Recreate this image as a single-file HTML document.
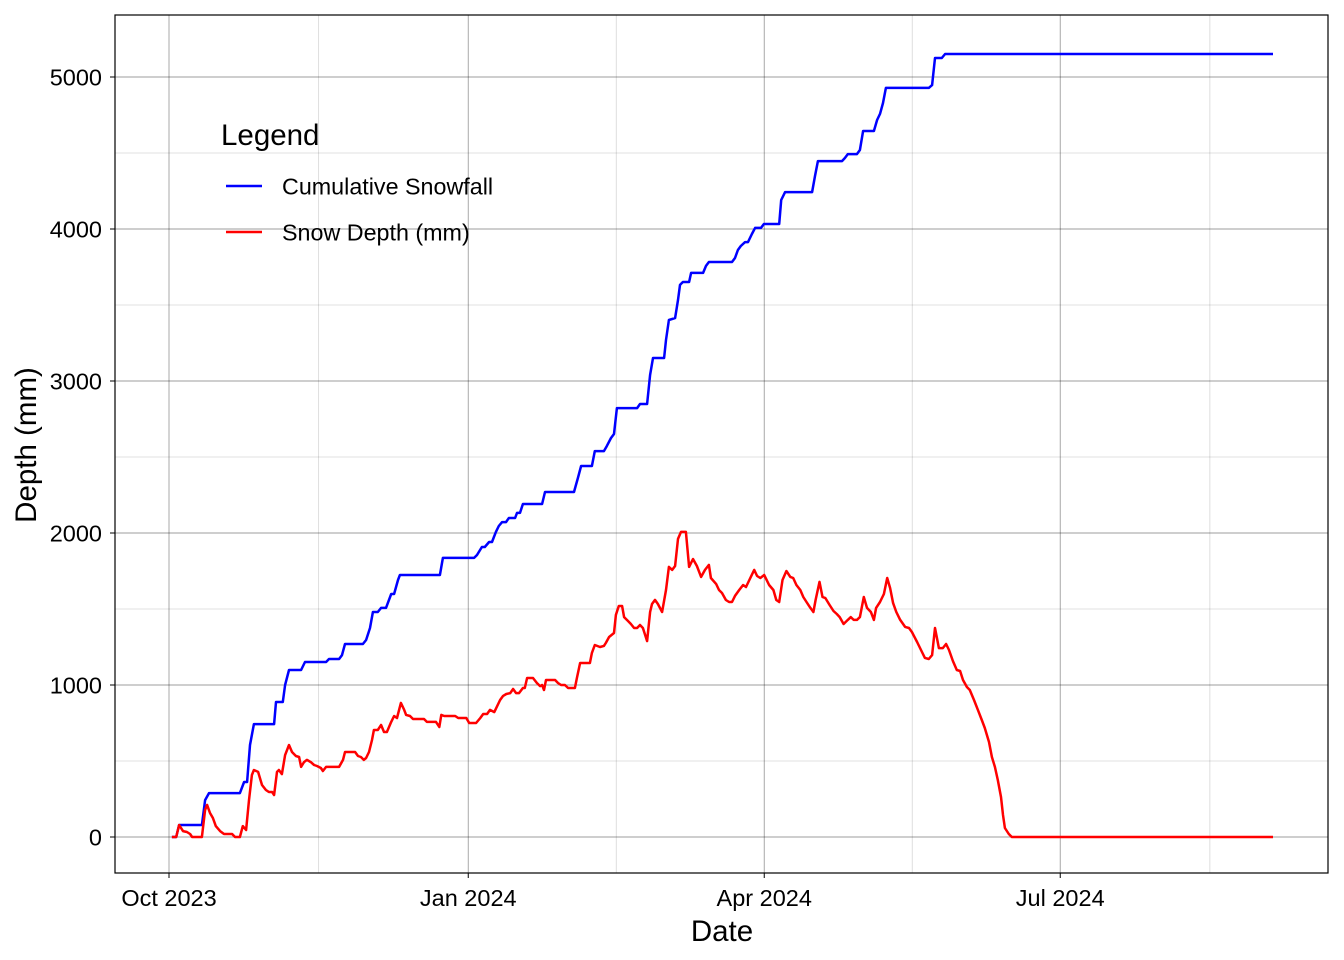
<!DOCTYPE html>
<html><head><meta charset="utf-8"><style>
html,body{margin:0;padding:0;background:#fff;}
svg{display:block;font-family:"Liberation Sans",Arial,sans-serif;}
</style></head><body>
<svg id="chart" width="1344" height="960" viewBox="0 0 1344 960"></svg>
<script>
// Data: day offset from 2023-10-01, value in mm
const depthDays=[0.9,2.2,3.1,4.3,5.5,6.5,7.1,10.1,11.1,11.7,12.6,13.5,14.4,15.7,16.9,19.4,20.3,21.8,22.7,23.7,24.6,25.5,26.1,27.4,28.6,29.8,30.7,31.7,32.3,33.2,33.8,34.7,35.7,36.9,37.8,39.0,40.0,40.6,41.5,42.4,43.6,44.6,45.5,46.7,47.3,48.3,50.1,52.3,53.5,54.1,56.3,57.2,58.1,59.0,59.9,60.6,61.5,62.4,63.0,64.2,65.2,66.1,67.0,68.3,69.2,70.1,71.3,72.3,72.9,74.1,75.0,78.4,79.3,82.1,83.1,83.7,84.6,88.0,88.9,91.4,92.3,94.4,95.7,96.6,97.8,98.7,100.0,101.8,102.7,103.7,104.9,105.8,106.7,107.6,108.8,109.4,110.1,111.9,113.1,114.1,114.7,115.3,115.9,118.7,119.6,120.5,121.7,122.7,124.8,125.4,126.4,129.4,130.0,130.9,132.5,133.7,134.3,135.3,136.8,137.4,138.3,139.3,139.9,141.1,142.0,143.0,143.9,144.8,145.7,147.0,147.9,148.5,149.4,150.3,151.6,152.8,153.7,154.7,155.6,156.5,157.4,158.9,159.9,161.1,162.3,163.6,164.8,166.0,166.6,168.2,169.1,170.0,171.2,172.2,173.1,174.0,175.3,176.5,177.4,178.7,179.9,180.8,181.8,183.0,183.6,184.5,185.8,186.7,187.6,188.6,189.8,191.0,191.9,192.9,194.1,195.0,196.0,197.2,198.1,198.8,200.0,200.9,201.8,203.1,204.3,205.3,206.2,207.4,208.7,209.6,210.5,211.5,212.4,213.6,214.6,215.8,216.7,217.4,218.6,219.8,220.8,221.7,222.6,223.6,224.8,226.3,227.5,228.4,230.0,231.2,232.4,233.6,234.6,235.5,236.7,237.9,238.9,239.8,241.0,242.2,243.2,244.1,245.3,246.2,247.5,248.7,249.9,250.8,252.1,253.0,253.9,254.8,255.8,256.4,257.0,258.2,259.1,339.4];
const depthVals=[0,0,79,39,33,20,0,0,178,211,158,125,72,39,20,20,0,0,72,46,243,408,441,428,342,309,296,296,276,428,441,414,539,605,559,533,526,461,493,507,493,474,467,454,434,461,461,461,507,559,559,559,533,526,507,520,559,638,704,704,737,691,691,757,796,783,882,836,803,796,776,776,757,757,724,803,796,796,783,783,750,750,783,809,809,836,822,901,928,941,947,974,947,947,980,980,1046,1046,1013,993,1000,967,1033,1033,1013,1000,1000,980,980,1046,1145,1145,1211,1263,1250,1257,1276,1316,1342,1461,1520,1520,1447,1421,1401,1375,1375,1395,1375,1289,1480,1533,1560,1533,1480,1625,1777,1757,1783,1961,2007,2007,1777,1829,1783,1711,1757,1790,1704,1665,1625,1605,1559,1546,1546,1586,1625,1658,1645,1704,1757,1717,1704,1724,1697,1658,1625,1559,1546,1691,1750,1711,1704,1658,1625,1579,1546,1507,1480,1559,1678,1579,1572,1526,1487,1467,1447,1401,1428,1447,1428,1428,1447,1579,1507,1480,1428,1507,1546,1599,1704,1638,1539,1480,1428,1382,1375,1349,1283,1230,1178,1171,1197,1375,1243,1243,1270,1230,1158,1099,1092,1033,987,967,901,836,770,717,625,526,461,375,263,145,59,20,0,0];
const cumDays=[0.9,2.2,3.1,10.1,11.1,12.3,21.8,23.1,24.0,24.9,26.1,32.3,32.9,35.0,35.7,36.9,40.6,41.8,48.3,49.2,52.3,53.2,54.1,59.6,60.6,61.8,62.7,64.2,65.2,66.7,68.3,69.2,70.4,71.0,83.3,84.2,93.8,94.7,96.2,97.1,98.4,99.3,100.5,101.4,102.4,103.6,104.5,106.4,107.0,107.9,108.8,114.7,115.6,124.5,125.7,126.7,130.0,130.9,133.7,134.6,135.9,136.8,137.7,143.9,144.8,147.0,147.9,148.8,152.2,152.8,153.7,155.6,156.5,157.1,158.0,159.9,160.5,164.2,165.1,166.0,173.1,174.0,174.9,175.8,177.1,178.0,179.2,180.2,182.0,182.9,187.6,188.2,189.4,197.7,198.6,199.5,206.9,207.8,208.7,211.5,212.4,213.4,216.7,217.7,218.6,219.5,220.4,233.6,234.6,235.5,237.6,238.6,339.4];
const cumVals=[0,0,79,79,243,289,289,362,362,605,743,743,888,888,1000,1099,1099,1151,1151,1171,1171,1197,1270,1270,1296,1375,1480,1480,1507,1507,1599,1599,1691,1724,1724,1836,1836,1855,1908,1908,1941,1941,2007,2046,2072,2072,2099,2099,2132,2132,2191,2191,2270,2270,2362,2441,2441,2539,2539,2572,2625,2651,2822,2822,2849,2849,3040,3151,3151,3270,3401,3414,3533,3632,3651,3651,3711,3711,3757,3783,3783,3809,3862,3888,3914,3914,3967,4007,4007,4033,4033,4191,4243,4243,4349,4447,4447,4467,4493,4493,4520,4645,4645,4717,4757,4829,4928,4928,4947,5125,5125,5151,5151];
const yTicks=[0,1000,2000,3000,4000,5000];
const xTickDays=[0,92,183,274];
const xTickLabels=["Oct 2023","Jan 2024","Apr 2024","Jul 2024"];

const NS="http://www.w3.org/2000/svg";
const svg=document.getElementById('chart');
const P={l:115,r:1328,t:15,b:873};
const xS=d=>169+d*3.2527;
const yS=v=>837-v*0.152;
function mk(tag,attrs,parent){const e=document.createElementNS(NS,tag);for(const k in attrs)e.setAttribute(k,attrs[k]);(parent||svg).appendChild(e);return e;}

const grid=mk('g',{});


for(let i=0;i<yTicks.length;i++){
  const v=yTicks[i]+500; const y=yS(v);
  if(y>P.t&&y<P.b){const l=mk('line',{x1:P.l,x2:P.r,y1:y,y2:y,stroke:'#000','stroke-opacity':0.16,'stroke-width':0.8},grid);
  
  }
}
for(let i=0;i<xTickDays.length;i++){
  const x=xS(xTickDays[i])+ (i<xTickDays.length-1 ? (xS(xTickDays[i+1])-xS(xTickDays[i]))/2 : (xS(xTickDays[1])-xS(xTickDays[0]))/2);
  if(x<P.r){const l=mk('line',{x1:x,x2:x,y1:P.t,y2:P.b,stroke:'#000','stroke-opacity':0.16,'stroke-width':0.8},grid);
  
  }
}
yTicks.forEach(v=>{const y=yS(v);
  const l=mk('line',{x1:P.l,x2:P.r,y1:y,y2:y,stroke:'#000','stroke-opacity':0.38,'stroke-width':0.9},grid);
  
  
  const t=mk('line',{x1:P.l-5,x2:P.l,y1:y,y2:y,stroke:'#000','stroke-width':1});
  
  
  const tx=mk('text',{x:P.l-13,y:y+8.5,'text-anchor':'end','font-size':23.5,fill:'#000'});tx.textContent=v;
  
  
});
xTickDays.forEach((d,i)=>{const x=xS(d);
  const l=mk('line',{x1:x,x2:x,y1:P.t,y2:P.b,stroke:'#000','stroke-opacity':0.38,'stroke-width':0.9},grid);
  
  
  const t=mk('line',{x1:x,x2:x,y1:P.b,y2:P.b+5,stroke:'#000','stroke-width':1});
  
  
  const tx=mk('text',{x:x,y:906,'text-anchor':'middle','font-size':23.5,fill:'#000'});tx.textContent=xTickLabels[i];
  
  
});
function line(days,vals,color,name){
  const d=days.map((t,i)=>(i?'L':'M')+xS(t).toFixed(1)+','+yS(vals[i]).toFixed(1)).join('');
  const p=mk('path',{d:d,fill:'none',stroke:color,'stroke-width':2.5,'stroke-linejoin':'round'});
  
  
}
line(cumDays,cumVals,'#0000ff','cumulative-snowfall-line');
line(depthDays,depthVals,'#ff0000','snow-depth-line');
const border=mk('rect',{x:P.l,y:P.t,width:P.r-P.l,height:P.b-P.t,fill:'none',stroke:'#000','stroke-width':1.2});


const xt=mk('text',{x:722,y:941,'text-anchor':'middle','font-size':29.5});xt.textContent='Date';


const yt=mk('text',{x:0,y:0,'text-anchor':'middle','font-size':29.5,transform:'translate(36,445) rotate(-90)'});yt.textContent='Depth (mm)';


const lg=mk('g',{});


const lt=mk('text',{x:221,y:145,'font-size':29.5},lg);lt.textContent='Legend';


[['Cumulative Snowfall','#0000ff',186],['Snow Depth (mm)','#ff0000',232]].forEach(e=>{
  const g=mk('g',{},lg);
  
  
  mk('line',{x1:226,x2:262,y1:e[2],y2:e[2],stroke:e[1],'stroke-width':2.5},g);
  const t=mk('text',{x:282,y:e[2]+8.5,'font-size':23.3},g);t.textContent=e[0];
});
</script>
</body></html>
